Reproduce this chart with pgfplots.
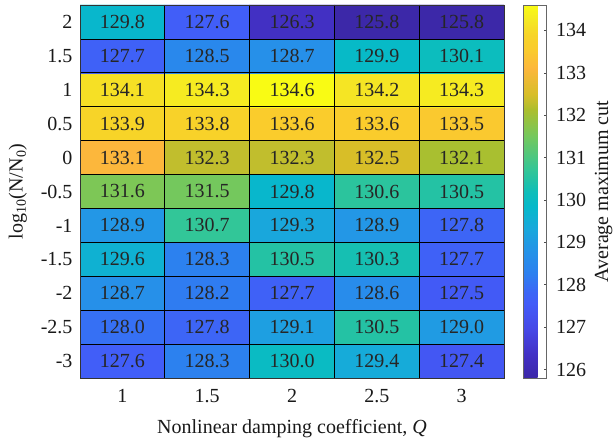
\documentclass[border=0pt]{standalone}
\usepackage{fontspec}
\setmainfont{Liberation Serif}
\usepackage{pgfplots}
\usepackage{pgfplotstable}
\pgfplotsset{compat=1.18}

% Average maximum cut for each (Q, log10(N/N0)) pair
\pgfplotstableread{
x   y    v
1   -3   127.6
1.5 -3   128.3
2   -3   130.0
2.5 -3   129.4
3   -3   127.4
1   -2.5 128.0
1.5 -2.5 127.8
2   -2.5 129.1
2.5 -2.5 130.5
3   -2.5 129.0
1   -2   128.7
1.5 -2   128.2
2   -2   127.7
2.5 -2   128.6
3   -2   127.5
1   -1.5 129.6
1.5 -1.5 128.3
2   -1.5 130.5
2.5 -1.5 130.3
3   -1.5 127.7
1   -1   128.9
1.5 -1   130.7
2   -1   129.3
2.5 -1   128.9
3   -1   127.8
1   -0.5 131.6
1.5 -0.5 131.5
2   -0.5 129.8
2.5 -0.5 130.6
3   -0.5 130.5
1   0    133.1
1.5 0    132.3
2   0    132.3
2.5 0    132.5
3   0    132.1
1   0.5  133.9
1.5 0.5  133.8
2   0.5  133.6
2.5 0.5  133.6
3   0.5  133.5
1   1    134.1
1.5 1    134.3
2   1    134.6
2.5 1    134.2
3   1    134.3
1   1.5  127.7
1.5 1.5  128.5
2   1.5  128.7
2.5 1.5  129.9
3   1.5  130.1
1   2    129.8
1.5 2    127.6
2   2    126.3
2.5 2    125.8
3   2    125.8
}\cutdata

% parula-like colour map
\pgfplotsset{
  colormap={parula}{
    rgb255(0pt)=(60,40,168)
    rgb255(6pt)=(66,48,196)
    rgb255(13pt)=(70,72,230)
    rgb255(20pt)=(66,92,248)
    rgb255(23pt)=(60,102,246)
    rgb255(28pt)=(45,128,240)
    rgb255(35pt)=(35,150,230)
    rgb255(40pt)=(25,168,220)
    rgb255(46pt)=(6,185,202)
    rgb255(50pt)=(15,190,185)
    rgb255(54pt)=(40,195,160)
    rgb255(56pt)=(52,198,150)
    rgb255(65pt)=(118,200,92)
    rgb255(72pt)=(172,190,45)
    rgb255(74pt)=(195,190,45)
    rgb255(76pt)=(215,190,40)
    rgb255(83pt)=(252,183,60)
    rgb255(88pt)=(250,203,45)
    rgb255(92pt)=(247,212,40)
    rgb255(96pt)=(245,232,35)
    rgb255(100pt)=(249,251,20)
  }
}

\newcommand{\bigfont}{\fontsize{20bp}{23bp}\selectfont}

\begin{document}
\begin{tikzpicture}
\useasboundingbox (0,0) rectangle (614bp,441bp);
\begin{axis}[
  at={(80bp,63bp)}, anchor=south west,
  width=424bp, height=373bp, scale only axis,
  xmin=0.75, xmax=3.25, ymin=-3.25, ymax=2.25,
  xtick={1,1.5,2,2.5,3},
  xticklabels={1,1.5,2,2.5,3},
  ytick={-3,-2.5,-2,-1.5,-1,-0.5,0,0.5,1,1.5,2},
  yticklabels={-3,-2.5,-2,-1.5,-1,-0.5,0,0.5,1,1.5,2},
  minor xtick={1.25,1.75,2.25,2.75},
  minor ytick={-2.75,-2.25,-1.75,-1.25,-0.75,-0.25,0.25,0.75,1.25,1.75},
  xminorgrids, yminorgrids,
  minor grid style={black, line width=0.7bp},
  major tick length=0pt, minor tick length=0pt,
  axis on top,
  axis line style={black!80, line width=0.7bp},
  tick label style={font=\bigfont, text=black!90},
  xticklabel style={yshift=-8bp},
  yticklabel style={xshift=-4bp},
  label style={font=\bigfont, text=black!90},
  xlabel={Nonlinear damping coefficient, \textit{Q}},
  ylabel={log\textsubscript{10}(N/N\textsubscript{0})},
  xlabel shift=10bp,
  ylabel shift=7bp,
  colormap name=parula,
  point meta min=125.8, point meta max=134.6,
  colorbar,
  colorbar style={
    at={(parent axis.north east)}, anchor=north west,
    xshift=11bp,
    width=23bp,
    ytick={126,127,128,129,130,131,132,133,134},
    ytick pos=right,
    ytick align=inside,
    major tick length=3bp,
    axis line style={black!60, line width=0.6bp},
    tick style={black!70, line width=0.6bp},
    yticklabel style={font=\bigfont, text=black!90, xshift=6bp},
    /pgf/number format/assume math mode=true,
    ylabel={Average maximum cut},
    ylabel style={font=\bigfont, text=black!90},
    ylabel shift=2bp,
  },
]
\addplot[matrix plot*, mesh/cols=5, point meta=explicit]
  table[x=x, y=y, meta=v] {\cutdata};
\addplot[draw=none, mark=none, nodes near coords,
  point meta=explicit symbolic,
  every node near coord/.append style={anchor=center, font=\bigfont, text=black!85}]
  table[x=x, y=y, meta=v] {\cutdata};
\end{axis}
\end{tikzpicture}
\end{document}
